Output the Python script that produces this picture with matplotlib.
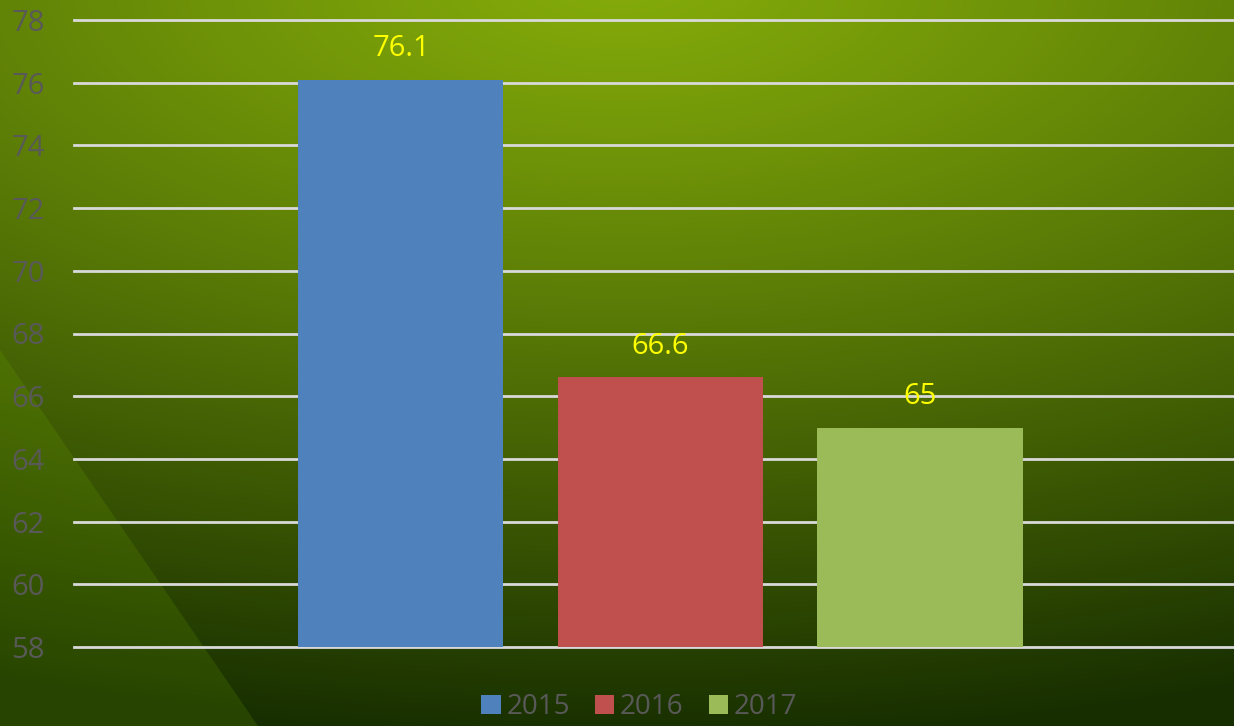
import numpy as np
import matplotlib.pyplot as plt
from matplotlib.patches import Patch, Polygon

# chart data
years = ['2015', '2016', '2017']
values = [76.1, 66.6, 65]
bar_colors = ['#4f81bd', '#c0504d', '#9bbb59']
yticks = [58, 60, 62, 64, 66, 68, 70, 72, 74, 76, 78]

W, H = 1234, 726
fig = plt.figure(figsize=(W / 100, H / 100), dpi=100)

# background gradient (bright at top centre, dark at bottom)
bg = fig.add_axes([0, 0, 1, 1], zorder=-2)
yy, xx = np.mgrid[0:H, 0:W]
t = np.sqrt(((xx - 620) / 1700.0) ** 2 + ((yy + 20) / 760.0) ** 2)
t = np.clip(t, 0, 1) ** 1.15
bright = np.array([0x84, 0xab, 0x0a]) / 255
dark = np.array([0x17, 0x2e, 0x00]) / 255
img = bright[None, None, :] * (1 - t[..., None]) + dark[None, None, :] * t[..., None]
bg.imshow(img, extent=[0, W, H, 0], aspect='auto', interpolation='bilinear')
# lighter diagonal wedge at the lower left
bg.add_patch(Polygon([(0, 350), (0, H), (258, H)], closed=True,
                     facecolor='#7bb800', alpha=0.16, edgecolor='none'))
bg.set_xlim(0, W)
bg.set_ylim(H, 0)
bg.axis('off')

ax = fig.add_axes([74 / W, 79 / H, 1 - 74 / W, (647 - 20) / H])
ax.patch.set_alpha(0)

x = np.arange(len(years))
ax.bar(x, values, width=0.79, color=bar_colors, zorder=3)
for xi, v in zip(x, values):
    ax.annotate(f'{v:g}', (xi, v), xytext=(0, 12), textcoords='offset points',
                ha='center', va='bottom', color='#ffff00', fontsize=21,
                family='Open Sans')

ax.set_ylim(58, 78)
ax.set_xlim(-1.26, 3.21)
ax.set_yticks(yticks)
ax.set_xticks([])
ax.yaxis.grid(True, color='#d9d9d9', linewidth=2.0, zorder=0)
ax.set_axisbelow(True)
for gl in ax.get_ygridlines():
    gl.set_clip_on(False)  # keep the 58 / 78 lines full width
ax.tick_params(axis='y', length=0, pad=21, labelcolor='#595959', labelsize=21)
for lbl in ax.get_yticklabels():
    lbl.set_family('Open Sans')
for s in ax.spines.values():
    s.set_visible(False)

handles = [Patch(facecolor=c, label=y) for c, y in zip(bar_colors, years)]
fig.legend(handles=handles, loc='lower center', bbox_to_anchor=(0.518, -0.028),
           ncol=3, frameon=False, labelcolor='#595959',
           handlelength=0.7, handleheight=0.7, handletextpad=0.2,
           columnspacing=0.9, prop={'family': 'Open Sans', 'size': 20})

fig.savefig('out.png', dpi=100)
